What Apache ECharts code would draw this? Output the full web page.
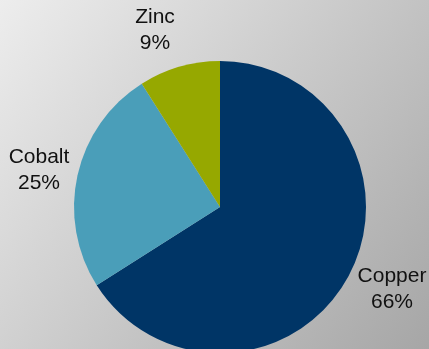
<!DOCTYPE html>
<html><head><meta charset="utf-8">
<script src="https://cdn.jsdelivr.net/npm/echarts@6/dist/echarts.min.js"></script>
<style>html,body{margin:0;padding:0;}#c{width:429px;height:349px;}</style>
</head><body><div id="c"></div>
<script>
const categories = ['Copper', 'Cobalt', 'Zinc'];
const values = [66, 25, 9];
const colors = ['#003566', '#4a9eb9', '#96a800'];
// label anchor positions (layout only)
const labelPos = [[392, 289], [39, 170], [155, 30]];

const chart = echarts.init(document.getElementById('c'), null, {renderer: 'canvas'});
chart.setOption({
  backgroundColor: {
    type: 'linear', x: 0, y: 0, x2: 1, y2: 1,
    colorStops: [{offset: 0, color: '#ededed'}, {offset: 1, color: '#a6a6a6'}]
  },
  animation: false,
  series: [{
    type: 'pie',
    center: [220, 207],
    radius: 146,
    startAngle: 90,
    clockwise: true,
    avoidLabelOverlap: false,
    data: categories.map((n, i) => ({name: n, value: values[i], itemStyle: {color: colors[i]}})),
    label: {
      show: true,
      position: 'outside',
      formatter: p => p.name + '\n' + p.value + '%',
      fontFamily: 'Liberation Sans, Arial, sans-serif',
      fontSize: 21,
      lineHeight: 26,
      color: '#111',
      align: 'center'
    },
    labelLine: {show: false},
    labelLayout: p => ({x: labelPos[p.dataIndex][0], y: labelPos[p.dataIndex][1], align: 'center', verticalAlign: 'middle'}),
    itemStyle: {borderWidth: 0},
    emphasis: {disabled: true}
  }]
});
</script></body></html>
